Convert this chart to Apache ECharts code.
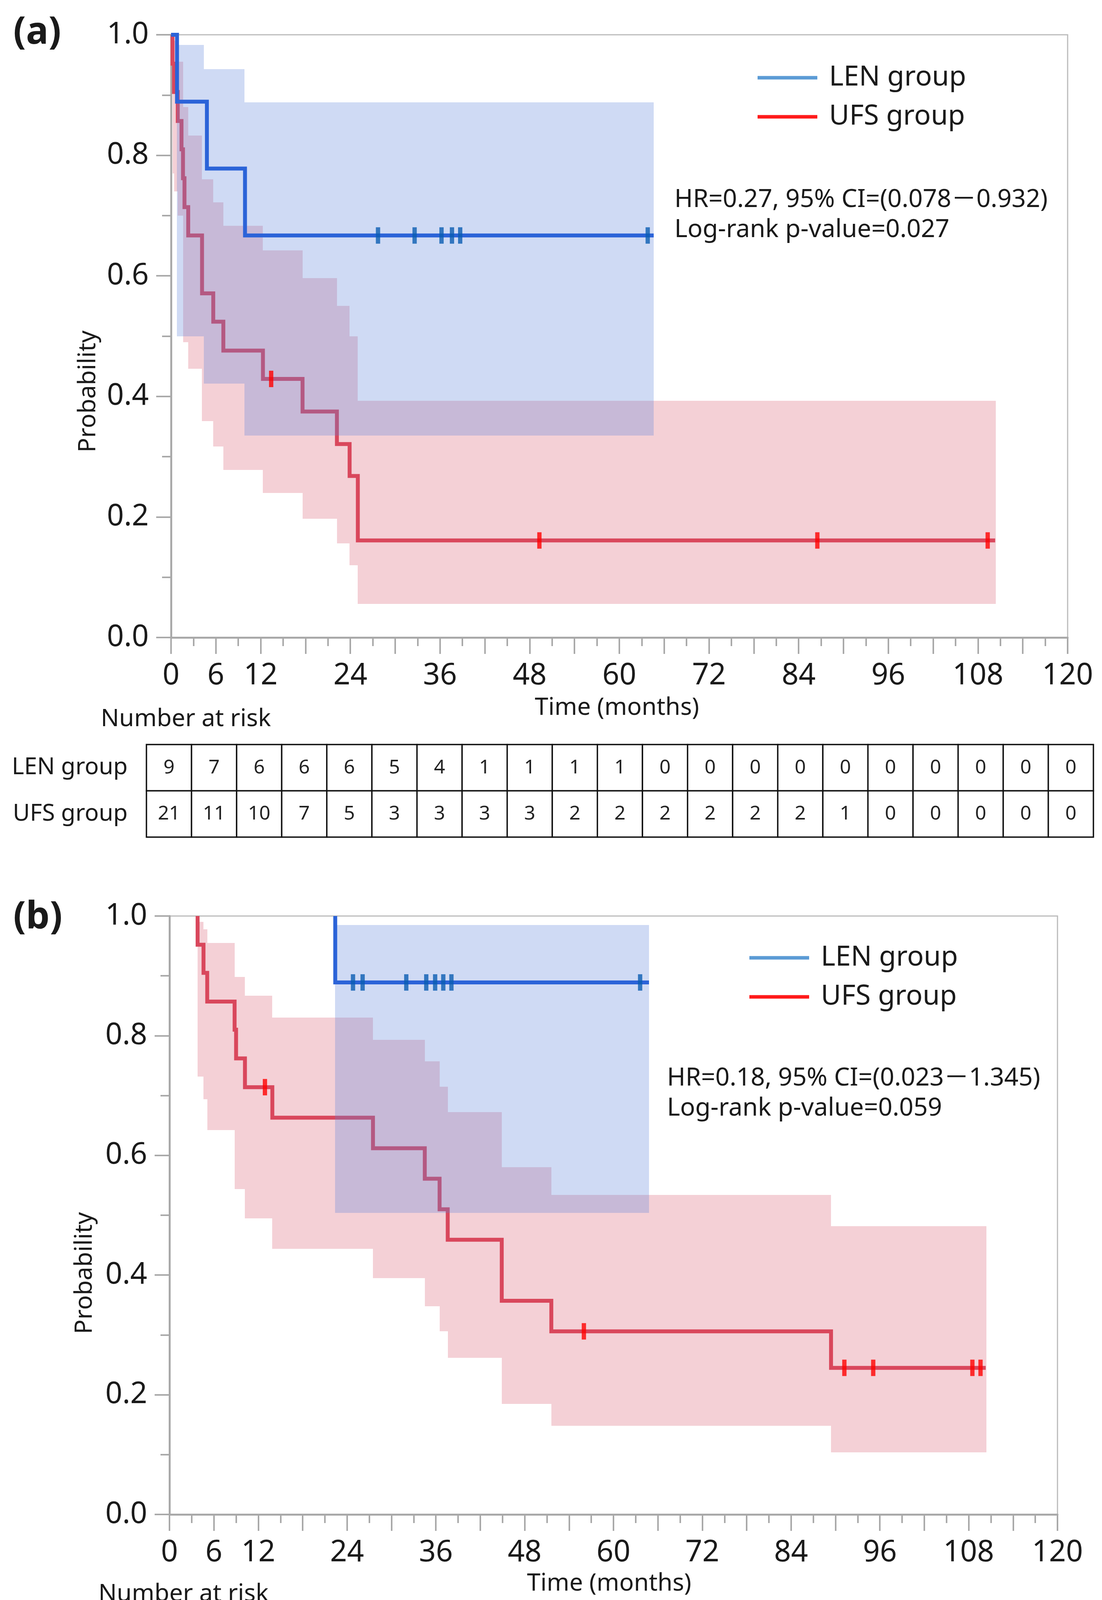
<!DOCTYPE html>
<html>
<head>
<meta charset="utf-8">
<script src="https://cdn.jsdelivr.net/npm/echarts@6/dist/echarts.min.js"></script>
<style>
html,body{margin:0;padding:0;background:#fff;}
#c{width:2822px;height:4412px;}
</style>
</head>
<body>
<div id="c"></div>
<script>
// ---------- Number at risk ----------
const riskTimes = [0,6,12,18,24,30,36,42,48,54,60,66,72,78,84,90,96,102,108,114,120];
const riskLEN_a = [9,7,6,6,6,5,4,1,1,1,1,0,0,0,0,0,0,0,0,0,0];
const riskUFS_a = [21,11,10,7,5,3,3,3,3,2,2,2,2,2,2,1,0,0,0,0,0];
const riskLEN_b = [9,8,8,8,8,6,4,1,1,1,1,0,0,0,0,0,0,0,0,0,0];
const riskUFS_b = [21,18,15,13,13,12,11,9,7,6,5,5,5,5,5,4,3,2,2,0,0];
const rowNames = ['LEN group','UFS group'];

// ---------- Panel (a) ----------
const lenA_t = [0, 0.8, 4.8, 9.9, 64.6];
const lenA_s = [1, 0.889, 0.778, 0.667, 0.667];
const lenA_ciT = [0.8, 4.4, 9.8, 64.6];
const lenA_ciLo = [0.50, 0.421, 0.335, 0.335];
const lenA_ciHi = [0.983, 0.943, 0.888, 0.888];
const lenA_censT = [27.7, 32.6, 36.2, 37.6, 38.7, 63.8];
const lenA_censS = [0.667, 0.667, 0.667, 0.667, 0.667, 0.667];

const ufsA_t = [0, 0.2, 0.4, 0.9, 1.4, 1.6, 1.8, 2.3, 4.15, 5.65, 7.0, 12.3, 17.6, 22.2, 23.9, 25.0, 110.3];
const ufsA_s = [1, 0.952, 0.905, 0.857, 0.810, 0.762, 0.714, 0.667, 0.571, 0.524, 0.476, 0.429, 0.375, 0.321, 0.268, 0.161, 0.161];
const ufsA_ciT = [0.2, 0.4, 0.9, 1.6, 2.3, 4.15, 5.65, 7.0, 12.3, 17.6, 22.2, 23.9, 25.0, 110.4];
const ufsA_ciHi = [1.0, 0.99, 0.955, 0.88, 0.833, 0.760, 0.722, 0.683, 0.642, 0.596, 0.55, 0.50, 0.393, 0.393];
const ufsA_ciLo = [0.77, 0.74, 0.70, 0.49, 0.446, 0.359, 0.317, 0.278, 0.240, 0.197, 0.156, 0.120, 0.056, 0.056];
const ufsA_censT = [13.4, 49.3, 86.5, 109.3];
const ufsA_censS = [0.429, 0.161, 0.161, 0.161];

// ---------- Panel (b) ----------
// (the flat part at 1.0 before the first event lies under the plot frame, so curves start at the first event)
const lenB_t = [22.4, 22.4, 64.8];
const lenB_s = [1, 0.889, 0.889];
const lenB_ciT = [22.4, 64.8];
const lenB_ciLo = [0.504, 0.504];
const lenB_ciHi = [0.985, 0.985];
const lenB_censT = [24.8, 26.1, 32.0, 34.7, 35.9, 37.0, 38.1, 63.6];
const lenB_censS = [0.889, 0.889, 0.889, 0.889, 0.889, 0.889, 0.889, 0.889];

const ufsB_t = [3.8, 3.8, 4.6, 5.1, 8.8, 9.0, 10.2, 13.9, 27.5, 34.5, 36.5, 37.6, 44.9, 51.6, 89.4, 110.3];
const ufsB_s = [1, 0.952, 0.905, 0.857, 0.810, 0.762, 0.714, 0.663, 0.612, 0.561, 0.510, 0.459, 0.357, 0.306, 0.245, 0.245];
const ufsB_ciT = [3.8, 4.6, 5.1, 8.8, 10.2, 13.9, 27.5, 34.5, 36.5, 37.6, 44.9, 51.6, 89.4, 110.4];
const ufsB_ciHi = [0.99, 0.978, 0.955, 0.898, 0.867, 0.830, 0.793, 0.757, 0.715, 0.672, 0.58, 0.534, 0.482, 0.482];
const ufsB_ciLo = [0.732, 0.694, 0.642, 0.544, 0.495, 0.444, 0.395, 0.348, 0.306, 0.262, 0.185, 0.148, 0.104, 0.104];
const ufsB_censT = [12.9, 56.0, 91.2, 95.1, 108.5, 109.6];
const ufsB_censS = [0.714, 0.306, 0.245, 0.245, 0.245, 0.245];

// ---------- Text ----------
const xTickShown = [0, 6, 12, 24, 36, 48, 60, 72, 84, 96, 108, 120];
const statsA = ['HR=0.27, 95% CI=(0.078－0.932)', 'Log-rank p-value=0.027'];
const statsB = ['HR=0.18, 95% CI=(0.023－1.345)', 'Log-rank p-value=0.059'];

// ---------- Style ----------
const FONT = '"Noto Sans", "Noto Sans CJK JP", sans-serif';
const C = {
  blueLine: '#2b63d8', blueCens: '#0a5cb2', blueBand: 'rgba(95,132,218,0.3)', blueLegend: '#5b9bd5',
  redLine: '#d9475c', redCens: '#ff0000', redBand: 'rgba(218,98,118,0.3)', redLegend: '#ff1a1a',
  axis: '#a9a9a9', frame: '#bbbbbb', text: '#1a1a1a'
};

const zip = (a, b) => a.map((v, i) => [v, b[i]]);

function plotAxes(g) {
  return {
    x: {
      type: 'value', gridIndex: g, min: 0, max: 120, interval: 6,
      axisLine: { onZero: false, lineStyle: { color: C.axis, width: 5 } },
      axisTick: { length: 42, lineStyle: { color: C.axis, width: 4 } },
      minorTick: { show: true, splitNumber: 2, length: 22, lineStyle: { color: C.axis, width: 4 } },
      splitLine: { show: false },
      axisLabel: {
        fontSize: 76, fontFamily: FONT, color: C.text, margin: 60,
        formatter: v => xTickShown.indexOf(v) >= 0 ? String(v) : ''
      }
    },
    y: {
      type: 'value', gridIndex: g, min: 0, max: 1, interval: 0.2,
      axisLine: { show: true, lineStyle: { color: C.axis, width: 5 } },
      axisTick: { show: true, length: 38, lineStyle: { color: C.axis, width: 4 } },
      minorTick: { show: true, splitNumber: 2, length: 23, lineStyle: { color: C.axis, width: 4 } },
      splitLine: { show: false },
      axisLabel: { fontSize: 76, fontFamily: FONT, color: C.text, margin: 57, formatter: v => v.toFixed(1) }
    }
  };
}

function tableAxes(g) {
  return {
    x: { type: 'value', gridIndex: g, min: -3, max: 123, show: false },
    y: {
      type: 'category', gridIndex: g, data: rowNames, inverse: true,
      axisLine: { show: false }, axisTick: { show: false }, splitLine: { show: false },
      axisLabel: { fontSize: 60, fontFamily: FONT, color: C.text, margin: 48 }
    }
  };
}

// CI band: one rectangle per interval [t_i, t_{i+1}] from lo_i to hi_i
function bandSeries(g, name, t, lo, hi, color, z) {
  const data = [];
  for (let i = 0; i < t.length - 1; i++) data.push([t[i], t[i + 1], lo[i], hi[i]]);
  return {
    type: 'custom', name: name, xAxisIndex: g, yAxisIndex: g, data: data, silent: true, z: z,
    clip: true,
    renderItem: function (params, api) {
      const p0 = api.coord([api.value(0), api.value(3)]);
      const p1 = api.coord([api.value(1), api.value(2)]);
      const x0 = Math.round(p0[0]), x1 = Math.round(p1[0]);
      const y0 = Math.round(p0[1]), y1 = Math.round(p1[1]);
      return { type: 'rect', shape: { x: x0, y: y0, width: x1 - x0, height: y1 - y0 },
               style: { fill: color }, z2: 0 };
    }
  };
}

function kmSeries(g, name, t, s, color, z) {
  return { type: 'line', name: name, xAxisIndex: g, yAxisIndex: g, step: 'end', data: zip(t, s),
    showSymbol: false, symbol: 'none', color: color, lineStyle: { color: color, width: 10, cap: 'butt', join: 'miter' }, z: z };
}

function censSeries(g, name, t, s, color) {
  return { type: 'scatter', name: name + ' censored', xAxisIndex: g, yAxisIndex: g, data: zip(t, s),
    symbol: 'rect', symbolSize: [11, 42], itemStyle: { color: color }, z: 6 };
}

function tableSeries(g, lenArr, ufsArr) {
  const data = [];
  riskTimes.forEach((t, k) => { data.push([t, 0, lenArr[k]]); data.push([t, 1, ufsArr[k]]); });
  return {
    type: 'custom', xAxisIndex: g, yAxisIndex: g, data: data, silent: true,
    renderItem: function (params, api) {
      const c = api.coord([api.value(0), api.value(1)]);
      const sz = api.size([6, 1]);
      return {
        type: 'group', children: [
          { type: 'rect', shape: { x: c[0] - sz[0] / 2, y: c[1] - sz[1] / 2, width: sz[0], height: sz[1] },
            style: { fill: '#fff', stroke: '#111', lineWidth: 3.5 } },
          { type: 'text', x: c[0], y: c[1],
            style: { text: String(api.value(2)), fill: '#222', fontSize: 50, fontFamily: FONT,
                     align: 'center', verticalAlign: 'middle' } }
        ]
      };
    }
  };
}

const pA = plotAxes(0), tA = tableAxes(1), pB = plotAxes(2), tB = tableAxes(3);

const grids = [
  { left: 438, top: 89, width: 2296, height: 1543, show: true, borderColor: C.frame, borderWidth: 3, backgroundColor: '#fff' },
  { left: 375, top: 1906, width: 2425, height: 237 },
  { left: 434, top: 2345, width: 2274, height: 1532, show: true, borderColor: C.frame, borderWidth: 3, backgroundColor: '#fff' },
  { left: 365, top: 4151, width: 2410, height: 236 }
];

const series = [].concat(
  // panel a
  [bandSeries(0, 'UFS CI', ufsA_ciT, ufsA_ciLo, ufsA_ciHi, C.redBand, 1)],
  [kmSeries(0, 'UFS group', ufsA_t, ufsA_s, C.redLine, 2)],
  [bandSeries(0, 'LEN CI', lenA_ciT, lenA_ciLo, lenA_ciHi, C.blueBand, 3)],
  [kmSeries(0, 'LEN group', lenA_t, lenA_s, C.blueLine, 4)],
  [censSeries(0, 'UFS', ufsA_censT, ufsA_censS, C.redCens), censSeries(0, 'LEN', lenA_censT, lenA_censS, C.blueCens)],
  [tableSeries(1, riskLEN_a, riskUFS_a)],
  // panel b
  [bandSeries(2, 'UFS CI', ufsB_ciT, ufsB_ciLo, ufsB_ciHi, C.redBand, 1)],
  [kmSeries(2, 'UFS group', ufsB_t, ufsB_s, C.redLine, 2)],
  [bandSeries(2, 'LEN CI', lenB_ciT, lenB_ciLo, lenB_ciHi, C.blueBand, 3)],
  [kmSeries(2, 'LEN group', lenB_t, lenB_s, C.blueLine, 4)],
  [censSeries(2, 'UFS', ufsB_censT, ufsB_censS, C.redCens), censSeries(2, 'LEN', lenB_censT, lenB_censS, C.blueCens)],
  [tableSeries(3, riskLEN_b, riskUFS_b)]
);

function legendAt(left, top) {
  return {
    left: left, top: top, orient: 'vertical', padding: 0, itemGap: 20,
    itemWidth: 153, itemHeight: 9, icon: 'rect', selectedMode: false,
    textStyle: { fontSize: 71, fontFamily: FONT, color: C.text, lineHeight: 80, padding: [0, 0, 0, 25] },
    data: [
      { name: 'LEN group', itemStyle: { color: C.blueLegend } },
      { name: 'UFS group', itemStyle: { color: C.redLegend } }
    ]
  };
}

function txt(x, y, text, size, opts) {
  return Object.assign({ type: 'text', x: x, y: y, silent: true, z: 10,
    style: Object.assign({ text: text, fill: C.text, fontSize: size, fontFamily: FONT, align: 'left', verticalAlign: 'middle' }, (opts && opts.style) || {}) },
    (opts && opts.el) || {});
}

const graphics = [
  txt(34, 85, '(a)', 96, { style: { fontWeight: 'bold' } }),
  txt(34, 2350, '(b)', 96, { style: { fontWeight: 'bold' } }),
  txt(226, 1002, 'Probability', 62, { style: { align: 'center' }, el: { rotation: Math.PI / 2 } }),
  txt(217, 3259, 'Probability', 62, { style: { align: 'center' }, el: { rotation: Math.PI / 2 } }),
  txt(1580, 1812, 'Time (months)', 62, { style: { align: 'center' } }),
  txt(1560, 4054, 'Time (months)', 62, { style: { align: 'center' } }),
  txt(258, 1841, 'Number at risk', 62),
  txt(252, 4081, 'Number at risk', 62),
  txt(1727, 512, statsA[0], 64),
  txt(1727, 589, statsA[1], 64),
  txt(1708, 2761, statsB[0], 64),
  txt(1708, 2838, statsB[1], 64)
];

const chart = echarts.init(document.getElementById('c'), null, { renderer: 'canvas' });
chart.setOption({
  backgroundColor: '#fff',
  animation: false,
  grid: grids,
  xAxis: [pA.x, tA.x, pB.x, tB.x],
  yAxis: [pA.y, tA.y, pB.y, tB.y],
  legend: [legendAt(1940, 159), legendAt(1919, 2412)],
  series: series,
  graphic: { elements: graphics }
});
</script>
</body>
</html>
